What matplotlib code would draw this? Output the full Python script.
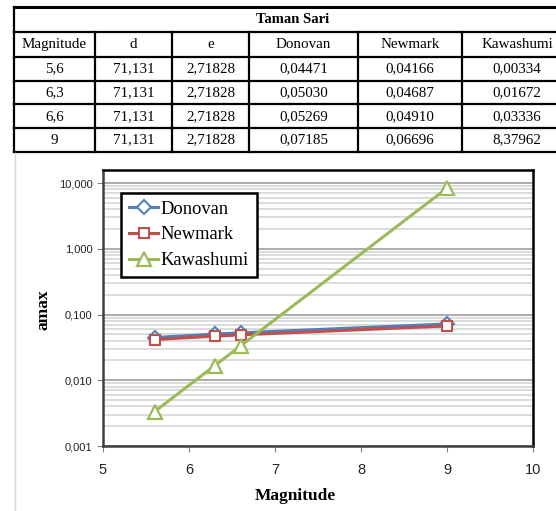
import matplotlib
matplotlib.use("Agg")
import matplotlib.pyplot as plt

magnitude = [5.6, 6.3, 6.6, 9]
d_values = [71.131, 71.131, 71.131, 71.131]
e_values = [2.71828, 2.71828, 2.71828, 2.71828]
donovan = [0.04471, 0.05030, 0.05269, 0.07185]
newmark = [0.04166, 0.04687, 0.04910, 0.06696]
kawashumi = [0.00334, 0.01672, 0.03336, 8.37962]

table_title = "Taman Sari"
headers = ["Magnitude", "d", "e", "Donovan", "Newmark", "Kawashumi"]
ytick_vals = [0.001, 0.01, 0.1, 1, 10]
ytick_labels = ["0,001", "0,010", "0,100", "1,000", "10,000"]
xtick_vals = [5, 6, 7, 8, 9, 10]

W, H = 556, 511
fig = plt.figure(figsize=(W / 100, H / 100), dpi=100)
serif = "Liberation Serif"
sans = "Liberation Sans"


def comma(s):
    return s.replace(".", ",")


# ---- table drawn in pixel coordinates ----
tab = fig.add_axes([0, 0, 1, 1])
tab.set_xlim(0, W)
tab.set_ylim(H, 0)
tab.axis("off")

col_edges = [14, 95, 172, 249, 358, 462, 572]
row_edges = [7, 32, 57, 81, 104.5, 128, 152]
lw = 1.6

tab.plot([col_edges[0], col_edges[-1]], [row_edges[0]] * 2, color="black", lw=2.2)
for y in row_edges[1:]:
    tab.plot([col_edges[0], col_edges[-1]], [y, y], color="black", lw=lw)
tab.plot([col_edges[0]] * 2, [row_edges[0], row_edges[-1]], color="black", lw=lw)
for x in col_edges[1:-1]:
    tab.plot([x, x], [row_edges[1], row_edges[-1]], color="black", lw=lw)

tab.text((col_edges[0] + col_edges[-1]) / 2, (row_edges[0] + row_edges[1]) / 2,
         table_title, family=serif, weight="bold", fontsize=10.5,
         ha="center", va="center")

rows = [headers]
for i in range(len(magnitude)):
    rows.append([
        comma(f"{magnitude[i]:g}"),
        comma(f"{d_values[i]:.3f}"),
        comma(f"{e_values[i]:.5f}"),
        comma(f"{donovan[i]:.5f}"),
        comma(f"{newmark[i]:.5f}"),
        comma(f"{kawashumi[i]:.5f}"),
    ])
for r, row in enumerate(rows):
    yc = (row_edges[r + 1] + row_edges[r + 2]) / 2
    for c, txt in enumerate(row):
        xc = (col_edges[c] + col_edges[c + 1]) / 2
        tab.text(xc, yc, txt, family=serif, fontsize=10.8, ha="center", va="center")

# faint chart-area border
tab.plot([15, 15], [153, H], color="#D9D9D9", lw=1)

# ---- chart ----
ax = fig.add_axes([103 / W, (H - 446) / H, 430 / W, (446 - 170) / H])
ax.set_yscale("log")
ax.set_xlim(5, 10)
ax.set_ylim(0.001, 15.8)

ax.grid(which="minor", axis="y", color="#D9D9D9", lw=1.3)
ax.grid(which="major", axis="y", color="#A6A6A6", lw=1.3)
ax.set_axisbelow(True)

ax.plot(magnitude, donovan, color="#4F81BD", lw=2.2, marker="D", ms=7.5,
        mfc="white", mec="#4F81BD", mew=1.5, label="Donovan")
ax.plot(magnitude, newmark, color="#C0504D", lw=2.2, marker="s", ms=7.5,
        mfc="white", mec="#C0504D", mew=1.5, label="Newmark")
ax.plot(magnitude, kawashumi, color="#9BBB59", lw=2.2, marker="^", ms=9.5,
        mfc="white", mec="#9BBB59", mew=1.6, label="Kawashumi")

ax.set_yticks(ytick_vals)
ax.set_yticklabels(ytick_labels)
ax.yaxis.set_minor_formatter(plt.NullFormatter())
ax.tick_params(axis="y", which="minor", length=0)
ax.tick_params(axis="y", which="major", length=4, color="#808080",
               labelsize=8, labelcolor="#222222")
ax.set_xticks(xtick_vals)
ax.tick_params(axis="x", length=4, color="#808080", labelsize=10.5,
               labelcolor="#222222", pad=8)
for lab in ax.get_xticklabels() + ax.get_yticklabels():
    lab.set_family(sans)

for sp in ax.spines.values():
    sp.set_color("#000000")
    sp.set_linewidth(1.8)
ax.spines["left"].set_color("#404040")
ax.spines["bottom"].set_color("#404040")

leg = ax.legend(loc="upper left", bbox_to_anchor=(0.042, 0.917),
                prop={"family": serif, "size": 13.3}, frameon=True,
                fancybox=False, edgecolor="black", framealpha=1,
                handlelength=1.6, handletextpad=0.12, labelspacing=0.47,
                borderpad=0.42, borderaxespad=0)
leg.get_frame().set_linewidth(1.8)

fig.text(295 / W, (H - 496) / H, "Magnitude", family=serif, weight="bold",
         fontsize=12.5, ha="center", va="center")
fig.text(44 / W, (H - 310) / H, "amax", family=serif, weight="bold",
         fontsize=12.5, ha="center", va="center", rotation=90)

fig.savefig("out.png", dpi=100)
